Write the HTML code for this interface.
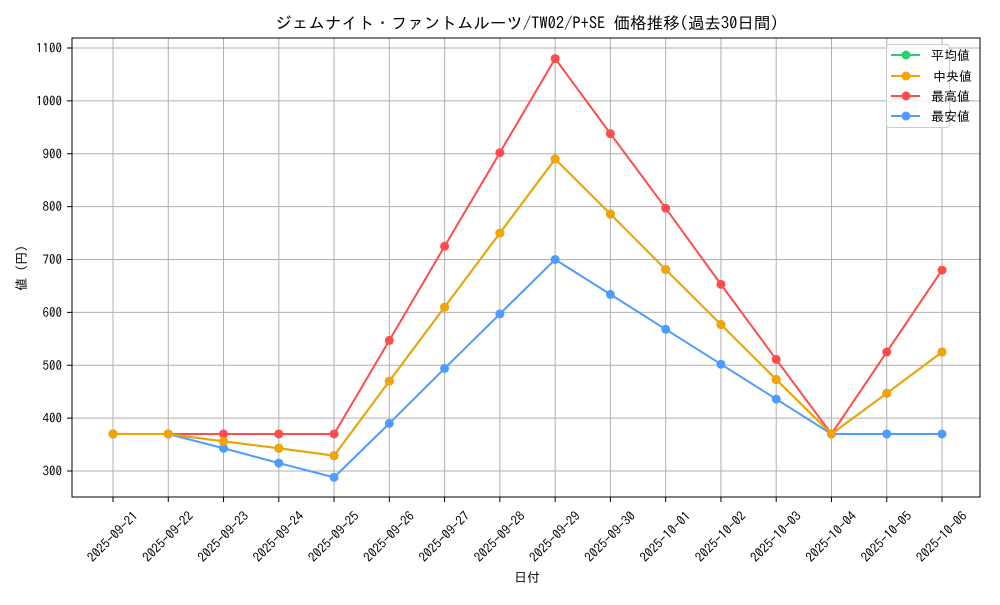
<!DOCTYPE html>
<html><head><meta charset="utf-8"><style>
body{margin:0;background:#fff}
text{font-family:"IPAGothic","Liberation Sans",sans-serif;fill:#000}
</style></head><body>
<svg id="s" width="1000" height="600" xmlns="http://www.w3.org/2000/svg">
<rect width="1000" height="600" fill="#fff"/>
<text x="527" y="29" font-size="16.5" text-anchor="middle">ジェムナイト・ファントムルーツ/TW02/P+SE 価格推移(過去30日間)</text>
<text x="527" y="582" font-size="13" text-anchor="middle">日付</text>
<text transform="translate(26,268) rotate(-90)" font-size="13" text-anchor="middle">値 (円)</text>
<g id="g"></g>
<rect x="72" y="38" width="908" height="459" fill="none" stroke="#000" stroke-width="1"/>
<g>
<rect x="886.5" y="44.5" width="63" height="83" rx="3" fill="#fff" fill-opacity="0.85" stroke="#ccc"/>
<line x1="891" y1="55" x2="920" y2="55" stroke="#2ecc71" stroke-width="2"/><circle cx="906" cy="55" r="4.5" fill="#2ecc71"/><text x="931" y="60" font-size="13">平均値</text>
<line x1="891" y1="76" x2="920" y2="76" stroke="#f4a300" stroke-width="2"/><circle cx="906" cy="76" r="4.5" fill="#f4a300"/><text x="933" y="81" font-size="13">中央値</text>
<line x1="891" y1="96" x2="920" y2="96" stroke="#ff4d4d" stroke-width="2"/><circle cx="906" cy="96" r="4.5" fill="#ff4d4d"/><text x="931" y="101" font-size="13">最高値</text>
<line x1="891" y1="116" x2="920" y2="116" stroke="#4d9cff" stroke-width="2"/><circle cx="906" cy="116" r="4.5" fill="#4d9cff"/><text x="931" y="121" font-size="13">最安値</text>
</g>
</svg>
<script>
const g=document.getElementById('g');let h='';
const X=i=>113+i*55.267, Y=v=>471-(v-300)*0.52875;
const dates=['09-21','09-22','09-23','09-24','09-25','09-26','09-27','09-28','09-29','09-30','10-01','10-02','10-03','10-04','10-05','10-06'];
for(let v=300;v<=1100;v+=100){const y=Y(v);h+=`<line x1="72" x2="980" y1="${y}" y2="${y}" stroke="#b0b0b0" stroke-width="1"/><line x1="67" x2="72" y1="${y}" y2="${y}" stroke="#000"/><text x="62" y="${y+4.5}" font-size="13" text-anchor="end">${v}</text>`;}
dates.forEach((d,i)=>{const x=X(i);h+=`<line x1="${x}" x2="${x}" y1="38" y2="497" stroke="#b0b0b0" stroke-width="1"/><line x1="${x}" x2="${x}" y1="497" y2="502" stroke="#000"/><text transform="translate(${x},537) rotate(-45)" font-size="13" text-anchor="middle" dy="4">2025-${d}</text>`;});
const S=[['#2ecc71',[370,370,356,343,329,470,610,750,890,786,681,577,473,370,447,525]],
['#ff4d4d',[370,370,370,370,370,547,725,902,1080,938,797,653,511,370,525,680]],
['#4d9cff',[370,370,343,315,288,390,494,597,700,634,568,502,436,370,370,370]],
['#f4a300',[370,370,356,343,329,470,610,750,890,786,681,577,473,370,447,525]]];
S.forEach(([c,d])=>{h+=`<polyline fill="none" stroke="${c}" stroke-width="2" points="${d.map((v,i)=>X(i)+','+Y(v)).join(' ')}"/>`;d.forEach((v,i)=>h+=`<circle cx="${X(i)}" cy="${Y(v)}" r="4.5" fill="${c}"/>`);});
g.innerHTML=h;
</script>
</body></html>
